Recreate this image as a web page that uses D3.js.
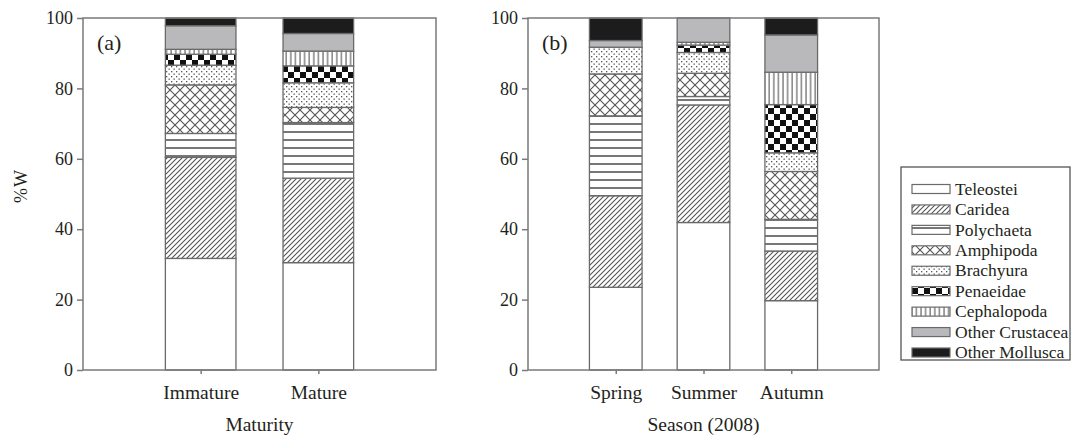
<!DOCTYPE html>
<html><head><meta charset="utf-8">
<script src="https://cdn.jsdelivr.net/npm/d3@7"></script>
<style>
body{margin:0;background:#fff}
svg{display:block}
text{font-family:"Liberation Serif","Times New Roman",serif;fill:#231f20}
</style>
</head><body><svg id="c" width="1073" height="438"></svg>
<script>
// ---- data ----
const prey = ["Teleostei","Caridea","Polychaeta","Amphipoda","Brachyura","Penaeidae","Cephalopoda","Other Crustacea","Other Mollusca"];
const maturityCats = ["Immature","Mature"];
const seasonCats = ["Spring","Summer","Autumn"];
const immature = [31.7,28.7,6.8,13.8,5.6,3.1,1.4,6.7,2.2];
const mature   = [30.5,24.0,15.8,4.3,7.0,4.8,4.2,5.0,4.4];
const spring   = [23.5,26.0,22.7,11.9,7.6,0,0,1.9,6.4];
const summer   = [41.9,33.4,2.4,6.6,5.9,2.1,0.8,6.9,0];
const autumn   = [19.7,14.1,9.0,13.6,5.3,13.7,9.2,10.6,4.8];
const yTicks = [0,20,40,60,80,100];

const svg = d3.select("#c");
const defs = svg.append("defs");
const lineCol = "#555";

function pat(id, w, h){
  return defs.append("pattern").attr("id", id).attr("patternUnits","userSpaceOnUse")
    .attr("width", w).attr("height", h);
}
// Caridea: diagonal hatch
{ const p = pat("p1",5,5);
  p.append("rect").attr("width",5).attr("height",5).attr("fill","#fff");
  p.append("path").attr("d","M0,5 L5,0 M-1,1 L1,-1 M4,6 L6,4").attr("stroke",lineCol).attr("stroke-width",1.1); }
// Polychaeta: horizontal lines
{ const p = pat("p2",8,8);
  p.append("rect").attr("width",8).attr("height",8).attr("fill","#fff");
  p.append("path").attr("d","M0,4 L8,4").attr("stroke","#777").attr("stroke-width",2); }
// Amphipoda: crosshatch
{ const p = pat("p3",10,10);
  p.append("rect").attr("width",10).attr("height",10).attr("fill","#fff");
  p.append("path").attr("d","M0,0 L10,10 M10,0 L0,10").attr("stroke",lineCol).attr("stroke-width",1.1); }
// Brachyura: dots
{ const p = pat("p4",5,5);
  p.append("rect").attr("width",5).attr("height",5).attr("fill","#fff");
  p.append("rect").attr("x",1).attr("y",1).attr("width",1.3).attr("height",1.3).attr("fill","#555");
  p.append("rect").attr("x",3.5).attr("y",3.5).attr("width",1.3).attr("height",1.3).attr("fill","#555"); }
// Penaeidae: checker
{ const p = pat("p5",12,12);
  p.append("rect").attr("width",12).attr("height",12).attr("fill","#fff");
  p.append("rect").attr("width",6).attr("height",6).attr("fill","#111");
  p.append("rect").attr("x",6).attr("y",6).attr("width",6).attr("height",6).attr("fill","#111"); }
// Cephalopoda: vertical lines
{ const p = pat("p6",4.6,4.6);
  p.append("rect").attr("width",4.6).attr("height",4.6).attr("fill","#fff");
  p.append("path").attr("d","M1,0 L1,4.6").attr("stroke",lineCol).attr("stroke-width",1.1); }

const fills = ["#fff","url(#p1)","url(#p2)","url(#p3)","url(#p4)","url(#p5)","url(#p6)","#b9b9bc","#1c1c1c"];
const edge = "#6a6a6a";
const axisCol = "#7a7a7a";

const plotTop = 18, plotBottom = 370;
const y = d3.scaleLinear().domain([0,100]).range([plotBottom, plotTop]);

function panel(x0, x1, cats, series, label, title){
  const g = svg.append("g");
  const x = d3.scalePoint().domain(cats).range([x0, x1]).padding(1);
  const bw = x.step()*0.6;
  const rows = cats.map((c,i)=>{ const r = {cat:c}; prey.forEach((p,j)=> r[p] = series[i][j]); return r; });
  const stacked = d3.stack().keys(prey)(rows);
  stacked.forEach((layer, li)=>{
    g.selectAll(null).data(layer.filter(d=> d[1]-d[0] > 0)).join("rect")
      .attr("x", d=> x(d.data.cat) - bw/2)
      .attr("width", bw)
      .attr("y", d=> y(d[1]))
      .attr("height", d=> y(d[0]) - y(d[1]))
      .attr("fill", fills[li])
      .attr("stroke", edge).attr("stroke-width", 1.3);
  });
  const ya = g.append("g").attr("transform",`translate(${x0},0)`)
    .call(d3.axisLeft(y).tickValues(yTicks).tickSize(6).tickSizeOuter(0).tickPadding(4));
  ya.select(".domain").remove();
  ya.selectAll("line").attr("stroke", axisCol).attr("stroke-width",1.5);
  ya.selectAll("text").attr("font-size",18).attr("font-family","Liberation Serif").attr("fill","#231f20");
  const xa = g.append("g").attr("transform",`translate(0,${plotBottom})`)
    .call(d3.axisBottom(x).tickSize(4).tickSizeOuter(0).tickPadding(11));
  xa.select(".domain").remove();
  xa.selectAll("line").attr("stroke", axisCol).attr("stroke-width",1.5);
  xa.selectAll("text").attr("font-size",19.5).attr("font-family","Liberation Serif").attr("fill","#231f20");
  g.append("rect").attr("x",x0).attr("y",plotTop).attr("width",x1-x0).attr("height",plotBottom-plotTop)
    .attr("fill","none").attr("stroke",axisCol).attr("stroke-width",1.5);
  g.append("text").attr("x",(x0+x1)/2).attr("y",431).attr("text-anchor","middle")
    .attr("font-size",19.5).text(title);
  g.append("text").attr("x",x0+14).attr("y",50).attr("font-size",22).text(label);
}

panel(83, 436, maturityCats, [immature, mature], "(a)", "Maturity");
panel(528, 879, seasonCats, [spring, summer, autumn], "(b)", "Season (2008)");

svg.append("text").attr("transform","translate(27,186) rotate(-90)").attr("text-anchor","middle")
  .attr("font-size",18).attr("letter-spacing",1).text("%W");

const lg = svg.append("g");
lg.append("rect").attr("x",901).attr("y",167).attr("width",169).attr("height",193)
  .attr("fill","#fff").attr("stroke","#555").attr("stroke-width",1.3);
const ly = d3.scalePoint().domain(prey).range([188.5, 352]);
prey.forEach((p,i)=>{
  lg.append("rect").attr("x",912).attr("y",ly(p)-4).attr("width",38).attr("height",9)
    .attr("fill",fills[i]).attr("stroke",edge).attr("stroke-width",1.2);
  lg.append("text").attr("x",955).attr("y",ly(p)).attr("dy","0.35em").attr("font-size",17.5).text(p);
});
</script>
</body></html>
